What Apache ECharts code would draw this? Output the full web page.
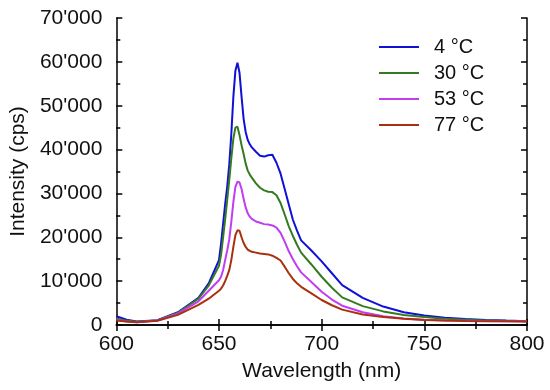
<!DOCTYPE html>
<html>
<head>
<meta charset="utf-8">
<script src="https://cdn.jsdelivr.net/npm/echarts@6/dist/echarts.min.js"></script>
<style>html,body{margin:0;padding:0;background:#fff}#c{width:550px;height:390px}</style>
</head>
<body>
<div id="c"></div>
<script>
const wavelengths = [600,605,610,620,630,640,645,650,651,652,653,654,655,656,657,658,659,660,661,662,663,664,665,666,668,670,672,674,676,678,680,682,684,686,688,690,695,700,705,710,720,730,740,750,760,770,780,790,800];
const seriesNames = ['4 °C','30 °C','53 °C','77 °C'];
const t4  = [2000,1200,800,1100,2900,6200,9500,14800,18500,23000,27500,31500,36500,43500,52000,58000,59800,57500,52000,47000,44000,42200,41200,40500,39500,38600,38400,38700,38800,37000,34500,31000,27500,24000,21500,19300,17000,14500,11800,9100,6200,4200,2900,2150,1650,1350,1150,1000,870];
const t30 = [1500,1000,750,1050,2800,6000,9000,13500,16000,20000,24000,28500,33000,38000,42500,45000,45200,43300,41000,39000,36800,35200,34300,33600,32300,31300,30700,30400,30300,29600,27800,25200,22500,20300,18300,16500,13800,11000,8500,6300,4300,3100,2300,1800,1400,1200,1050,930,830];
const t53 = [1200,800,650,1000,2600,5400,7800,10200,11000,12500,14800,17000,19500,23500,28000,31500,32700,32500,31000,28800,26800,25500,24700,24200,23600,23300,23000,22900,22700,22200,21000,19000,16800,15000,13400,12000,9800,7600,5800,4400,2900,2000,1500,1200,1050,950,900,870,830];
const t77 = [1000,800,650,950,2300,4600,6000,7800,8300,9000,10000,11200,12500,14800,17800,20500,21600,21500,20000,18700,17800,17200,16900,16700,16500,16300,16200,16100,15800,15300,14700,13300,11800,10500,9500,8700,7200,5700,4500,3500,2400,1800,1400,1150,1000,920,870,850,820];
const values = [t4, t30, t53, t77];
const colors = ['#1010d8','#357a1f','#c23cf2','#a8300f'];

const fmt = v => String(v).replace(/\B(?=(\d{3})+(?!\d))/g, "'");
const font = 'Liberation Sans, Arial, sans-serif';
const mkLine = () => ({show:true, lineStyle:{color:'#000', width:1.5}});
const mkTick = () => ({show:true, inside:false, length:-6, lineStyle:{color:'#000', width:1.5}});
const mkMinor = () => ({show:true, splitNumber:2, length:-4, lineStyle:{color:'#000', width:1.5}});

const chart = echarts.init(document.getElementById('c'), null, {renderer:'canvas'});
chart.setOption({
  animation:false,
  backgroundColor:'#fff',
  textStyle:{fontFamily:font},
  grid:{left:116, right:23, top:18, bottom:65},
  legend:{
    orient:'vertical', left:374, top:32, itemWidth:40, itemHeight:14, itemGap:6,
    data: seriesNames.map((n,i)=>({name:n, icon:'path://M0,6L40,6L40,8L0,8Z', itemStyle:{color:colors[i]}})),
    textStyle:{fontFamily:font, fontSize:20, lineHeight:20, color:'#111', padding:[0,0,0,10]}
  },
  xAxis:[
    {type:'value', min:600, max:800, interval:50, position:'bottom',
     name:'Wavelength (nm)', nameLocation:'middle', nameGap:36,
     nameTextStyle:{fontFamily:font, fontSize:21, color:'#111'},
     axisLine:mkLine(), axisTick:mkTick(), minorTick:mkMinor(), splitLine:{show:false}, minorSplitLine:{show:false},
     axisLabel:{fontFamily:font, fontSize:21, color:'#111', margin:9}},
    {type:'value', min:600, max:800, interval:50, position:'top',
     axisLine:mkLine(), axisTick:mkTick(), minorTick:mkMinor(), splitLine:{show:false},
     axisLabel:{show:false}}
  ],
  yAxis:[
    {type:'value', min:0, max:70000, interval:10000, position:'left',
     name:'Intensity (cps)', nameLocation:'middle', nameGap:86, nameRotate:90,
     nameTextStyle:{fontFamily:font, fontSize:21, color:'#111'},
     axisLine:mkLine(), axisTick:mkTick(), minorTick:mkMinor(), splitLine:{show:false},
     axisLabel:{fontFamily:font, fontSize:21, color:'#111', margin:14, formatter:fmt}},
    {type:'value', min:0, max:70000, interval:10000, position:'right',
     axisLine:mkLine(), axisTick:mkTick(), minorTick:mkMinor(), splitLine:{show:false},
     axisLabel:{show:false}}
  ],
  series: seriesNames.map((n,i)=>({
    name:n, type:'line', xAxisIndex:0, yAxisIndex:0,
    data: wavelengths.map((w,j)=>[w, values[i][j]]),
    showSymbol:false, symbol:'none', smooth:false,
    lineStyle:{color:colors[i], width:2},
    itemStyle:{color:colors[i]}
  }))
});
</script>
</body>
</html>
